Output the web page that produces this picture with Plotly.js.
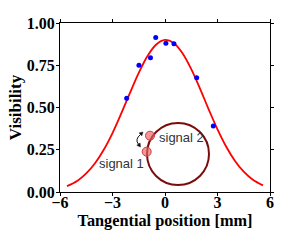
<!DOCTYPE html>
<html><head><meta charset="utf-8">
<script src="https://cdn.plot.ly/plotly-3.0.1.min.js"></script>
<style>html,body{margin:0;padding:0;background:#fff}#chart{width:300px;height:240px}</style>
</head><body><div id="chart"></div>
<script>
// measured data points
var dataX = [-2.19, -1.49, -0.83, -0.53, 0.05, 0.51, 1.81, 2.76];
var dataY = [0.554, 0.75, 0.795, 0.914, 0.88, 0.877, 0.676, 0.39];
// fitted curve
var fitX = [-5.6, -5, -4.5, -4, -3.5, -3, -2.5, -2, -1.5, -1, -0.5, 0, 0.5, 1, 1.5, 2, 2.5, 3, 3.5, 4, 4.5, 5, 5.6];
var fitY = [0.035, 0.067, 0.110, 0.170, 0.250, 0.349, 0.465, 0.587, 0.705, 0.805, 0.873, 0.900, 0.882, 0.821, 0.727, 0.612, 0.488, 0.371, 0.268, 0.184, 0.120, 0.074, 0.039];
var xTicks = [-6, -3, 0, 3, 6];
var xTickText = ['\u22126', '\u22123', '0', '3', '6'];
var yTicks = [0, 0.25, 0.5, 0.75, 1];
var yTickText = ['0.00', '0.25', '0.50', '0.75', '1.00'];

var L = 60, R = 30, T = 23, B = 48, W = 300, H = 240;
var pw = W - L - R, ph = H - T - B;
function px(x){ return (x - L) / pw; }
function py(y){ return (H - B - y) / ph; }
function pt(x, y){ return px(x).toFixed(4) + ',' + py(y).toFixed(4); }

function head(tx, ty, dx, dy){
  var n = Math.sqrt(dx*dx + dy*dy); dx /= n; dy /= n;
  var bx = tx - 3.5*dx, by = ty - 3.5*dy;
  var nx = -dy, ny = dx;
  return 'M' + pt(tx, ty) + ' L' + pt(bx + 2*nx, by + 2*ny) + ' L' + pt(bx - 2*nx, by - 2*ny) + ' Z';
}

var shapes = [
  {type:'circle', xref:'paper', yref:'paper', x0:px(147), x1:px(209), y0:py(185), y1:py(123),
   line:{color:'#7b0c0c', width:2}, fillcolor:'rgba(0,0,0,0)'},
  {type:'circle', xref:'paper', yref:'paper', x0:px(145.5), x1:px(154.5), y0:py(140.2), y1:py(131.2),
   line:{color:'#c84040', width:1}, fillcolor:'rgba(236,96,96,0.65)'},
  {type:'circle', xref:'paper', yref:'paper', x0:px(142.2), x1:px(151.2), y0:py(156.2), y1:py(147.2),
   line:{color:'#c84040', width:1}, fillcolor:'rgba(236,96,96,0.65)'},
  {type:'path', xref:'paper', yref:'paper', path:'M' + pt(140.6, 134.4) + ' Q' + pt(134.5, 139.5) + ' ' + pt(138.5, 144.2),
   line:{color:'#111', width:1}},
  {type:'path', xref:'paper', yref:'paper', path:head(143, 132, 8, -7.5), line:{color:'#111', width:0.5}, fillcolor:'#111'},
  {type:'path', xref:'paper', yref:'paper', path:head(140.5, 147, 5.5, 7.5), line:{color:'#111', width:0.5}, fillcolor:'#111'}
];

var annotations = [
  {xref:'paper', yref:'paper', x:px(157), y:py(137), xanchor:'left', yanchor:'middle', showarrow:false,
   text:'signal 2', font:{family:'Liberation Sans, Arial, sans-serif', size:13, color:'#333'}},
  {xref:'paper', yref:'paper', x:px(146), y:py(163), xanchor:'right', yanchor:'middle', showarrow:false,
   text:'signal 1', font:{family:'Liberation Sans, Arial, sans-serif', size:13, color:'#333'}}
];

var serif = '"Liberation Serif", "Times New Roman", serif';
var axisCommon = {showgrid:false, zeroline:false, showline:true, linecolor:'#000', linewidth:1,
  mirror:'ticks', ticks:'outside', ticklen:3, tickcolor:'#000', tickwidth:1,
  tickfont:{family:serif, size:16, color:'#000', weight:700}};

var layout = {
  width:W, height:H, margin:{l:L, r:R, t:T, b:B, pad:0},
  paper_bgcolor:'#fff', plot_bgcolor:'#fff', showlegend:false,
  xaxis:Object.assign({}, axisCommon, {range:[-6,6], tickvals:xTicks, ticktext:xTickText.map(function(s){return '<b>'+s+'</b>';}),
    ticklabelstandoff:-7,
    title:{text:'<b>Tangential position [mm]</b>', font:{family:serif, size:16.3, color:'#000'}, standoff:0}}),
  yaxis:Object.assign({}, axisCommon, {range:[0,1], tickvals:yTicks, ticktext:yTickText.map(function(s){return '<b>'+s+'</b>';}),
    ticklabelstandoff:-2,
    title:{text:'<b>Visibility</b>', font:{family:serif, size:17, color:'#000'}, standoff:0}}),
  shapes:shapes, annotations:annotations
};

var traces = [
  {x:fitX, y:fitY, mode:'lines', line:{color:'#ff0000', width:1.8, shape:'spline'}, hoverinfo:'none'},
  {x:dataX, y:dataY, mode:'markers', marker:{color:'#0000ff', size:5}, hoverinfo:'none'}
];

Plotly.newPlot('chart', traces, layout, {staticPlot:true, displayModeBar:false});
</script></body></html>
